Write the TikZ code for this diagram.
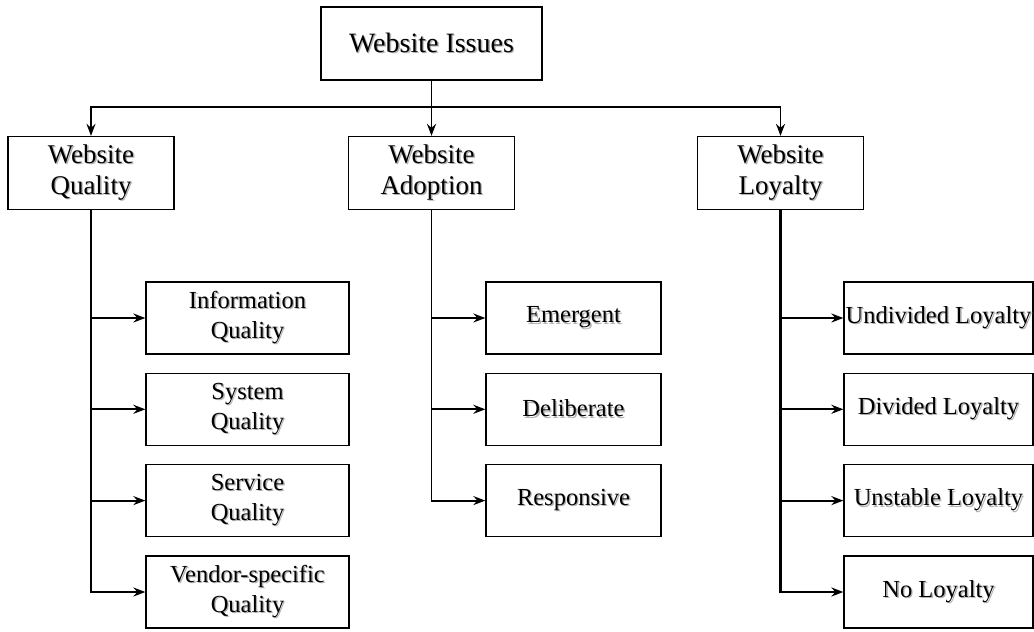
\documentclass[tikz,border=0pt]{standalone}
\usepackage{fontspec}
\setmainfont{Liberation Serif}
\usetikzlibrary{arrows.meta}
% text with a soft grey drop shadow
\newcommand\shd[1]{\leavevmode\rlap{\hspace{1.4pt}\raisebox{-1.4pt}{\textcolor{black!30}{#1}}}#1}

\begin{document}
\begin{tikzpicture}[x=1pt,y=-1pt,
  box/.style={draw, line width=1.3pt, inner sep=0pt, align=center, minimum height=72pt},
  rootbox/.style={box, minimum width=221pt, minimum height=73pt, font=\fontsize{28}{31}\selectfont},
  groupbox/.style={box, minimum width=166pt, minimum height=73pt, font=\fontsize{27}{31}\selectfont},
  leaf/.style={box, font=\fontsize{24.5}{30}\selectfont},
  link/.style={line width=1.9pt},
  arr/.style={link, -{Stealth[length=12pt,width=9pt,inset=4pt]}}]
\useasboundingbox (0,0) rectangle (1034,632);

% root and the three groups
\node[rootbox] (root) at (431.5,43.5) {\shd{Website Issues}};
\node[groupbox] (qual) at (91,173) {\shd{Website}\\\shd{Quality}};
\node[groupbox] (adop) at (431.5,173) {\shd{Website}\\\shd{Adoption}};
\node[groupbox] (loy) at (780.5,173) {\shd{Website}\\\shd{Loyalty}};

% quality leaves
\begin{scope}[every node/.style={leaf, minimum width=203pt}]
\node (q1) at (247.5,318) {\shd{Information}\\\shd{Quality}};
\node (q2) at (247.5,409.3) {\shd{System}\\\shd{Quality}};
\node (q3) at (247.5,500.6) {\shd{Service}\\\shd{Quality}};
\node (q4) at (247.5,592) {\shd{Vendor-specific}\\\shd{Quality}};
\end{scope}

% adoption leaves
\begin{scope}[every node/.style={leaf, minimum width=175pt}]
\node (a1) at (573.5,318) {\shd{Emergent}};
\node (a2) at (573.5,409.3) {\shd{Deliberate}};
\node (a3) at (573.5,500.6) {\shd{Responsive}};
\end{scope}

% loyalty leaves
\begin{scope}[every node/.style={leaf, minimum width=189pt}]
\node (l1) at (938.5,318) {\shd{Undivided Loyalty}};
\node (l2) at (938.5,409.3) {\shd{Divided Loyalty}};
\node (l3) at (938.5,500.6) {\shd{Unstable Loyalty}};
\node (l4) at (938.5,592) {\shd{No Loyalty}};
\end{scope}

% root to groups
\coordinate (bus) at (431.5,107);
\draw[link] (root.south) -- (bus);
\draw[arr] (bus) -| (qual.north);
\draw[arr] (bus) -- (adop.north);
\draw[arr] (bus) -| (loy.north);

% groups to leaves
\draw[arr] (qual.south) |- (q4.west);
\foreach \n in {q1,q2,q3} \draw[arr] (qual.south |- \n.west) -- (\n.west);
\draw[arr] (adop.south) |- (a3.west);
\foreach \n in {a1,a2} \draw[arr] (adop.south |- \n.west) -- (\n.west);
\draw[arr, line width=2.6pt] (loy.south) |- (l4.west);
\foreach \n in {l1,l2,l3} \draw[arr] (loy.south |- \n.west) -- (\n.west);
\end{tikzpicture}
\end{document}
